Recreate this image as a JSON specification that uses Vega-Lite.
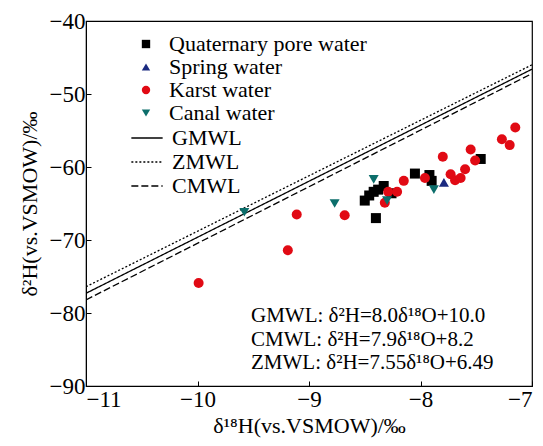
{
  "$schema": "https://vega.github.io/schema/vega-lite/v6.json",
  "width": 446,
  "height": 365,
  "autosize": {"type": "none"},
  "padding": {"left": 86, "top": 21, "right": 11, "bottom": 60},
  "background": "white",
  "config": {
    "font": "Liberation Serif",
    "view": {"stroke": "black", "strokeWidth": 1.2},
    "axis": {
      "grid": false,
      "domainColor": "black",
      "tickColor": "black",
      "tickSize": -5,
      "labelColor": "black",
      "labelFont": "Liberation Serif",
      "labelFontSize": 23,
      "titleFont": "Liberation Serif",
      "titleFontSize": 22,
      "titleFontWeight": "normal",
      "titleColor": "black",
      "format": "d"
    },
    "legend": {
      "labelFont": "Liberation Serif",
      "labelFontSize": 22,
      "labelColor": "black",
      "labelLimit": 400,
      "padding": 0,
      "rowPadding": 1,
      "title": null
    }
  },
  "datasets": {
    "samples": [
      {"type": "Quaternary pore water", "o18": -8.50, "h2": -64.6},
      {"type": "Quaternary pore water", "o18": -8.46, "h2": -63.9},
      {"type": "Quaternary pore water", "o18": -8.42, "h2": -63.4},
      {"type": "Quaternary pore water", "o18": -8.38, "h2": -63.1},
      {"type": "Quaternary pore water", "o18": -8.33, "h2": -62.6},
      {"type": "Quaternary pore water", "o18": -8.26, "h2": -63.6},
      {"type": "Quaternary pore water", "o18": -8.40, "h2": -67.0},
      {"type": "Quaternary pore water", "o18": -8.05, "h2": -60.9},
      {"type": "Quaternary pore water", "o18": -7.92, "h2": -61.1},
      {"type": "Quaternary pore water", "o18": -7.90, "h2": -61.9},
      {"type": "Quaternary pore water", "o18": -7.46, "h2": -58.9},
      {"type": "Spring water", "o18": -7.79, "h2": -62.1},
      {"type": "Karst water", "o18": -9.99, "h2": -75.9},
      {"type": "Karst water", "o18": -9.19, "h2": -71.4},
      {"type": "Karst water", "o18": -9.11, "h2": -66.5},
      {"type": "Karst water", "o18": -8.68, "h2": -66.6},
      {"type": "Karst water", "o18": -8.32, "h2": -64.9},
      {"type": "Karst water", "o18": -8.29, "h2": -63.4},
      {"type": "Karst water", "o18": -8.21, "h2": -63.4},
      {"type": "Karst water", "o18": -8.15, "h2": -61.9},
      {"type": "Karst water", "o18": -7.96, "h2": -61.5},
      {"type": "Karst water", "o18": -7.80, "h2": -58.6},
      {"type": "Karst water", "o18": -7.73, "h2": -61.0},
      {"type": "Karst water", "o18": -7.69, "h2": -61.8},
      {"type": "Karst water", "o18": -7.64, "h2": -61.5},
      {"type": "Karst water", "o18": -7.60, "h2": -60.3},
      {"type": "Karst water", "o18": -7.55, "h2": -57.6},
      {"type": "Karst water", "o18": -7.51, "h2": -59.1},
      {"type": "Karst water", "o18": -7.27, "h2": -56.2},
      {"type": "Karst water", "o18": -7.20, "h2": -57.0},
      {"type": "Karst water", "o18": -7.15, "h2": -54.6},
      {"type": "Canal water", "o18": -9.58, "h2": -66.2},
      {"type": "Canal water", "o18": -8.77, "h2": -65.0},
      {"type": "Canal water", "o18": -8.42, "h2": -61.7},
      {"type": "Canal water", "o18": -8.30, "h2": -64.6},
      {"type": "Canal water", "o18": -7.88, "h2": -63.1}
    ],
    "lines": [
      {"line": "GMWL", "o18": -11, "h2": -77.3},
      {"line": "GMWL", "o18": -7, "h2": -46.6},
      {"line": "ZMWL", "o18": -11, "h2": -76.4},
      {"line": "ZMWL", "o18": -7, "h2": -46.0},
      {"line": "CMWL", "o18": -11, "h2": -78.2},
      {"line": "CMWL", "o18": -7, "h2": -47.2}
    ],
    "notes": [
      {"o18": -9.52, "h2": -80.4, "label": "GMWL: δ²H=8.0δ¹⁸O+10.0"},
      {"o18": -9.52, "h2": -83.65, "label": "CMWL: δ²H=7.9δ¹⁸O+8.2"},
      {"o18": -9.52, "h2": -86.9, "label": "ZMWL: δ²H=7.55δ¹⁸O+6.49"}
    ]
  },
  "layer": [
    {
      "data": {"name": "lines"},
      "mark": {"type": "line", "color": "black", "strokeWidth": 1.3, "clip": true},
      "encoding": {
        "x": {"field": "o18", "type": "quantitative", "scale": {"domain": [-11, -7], "nice": false, "zero": false},
              "axis": {"title": "δ¹⁸H(vs.VSMOW)/‰", "values": [-11, -10, -9, -8, -7], "titlePadding": 4, "labelPadding": 7}},
        "y": {"field": "h2", "type": "quantitative", "scale": {"domain": [-90, -40], "nice": false, "zero": false},
              "axis": {"title": "δ²H(vs.VSMOW)/‰", "values": [-90, -80, -70, -60, -50, -40], "titlePadding": 8, "labelPadding": 6}},
        "detail": {"field": "line"},
        "strokeDash": {
          "field": "line", "type": "nominal",
          "scale": {"domain": ["GMWL", "ZMWL", "CMWL"], "range": [[1, 0], [2, 2], [7, 3]]},
          "legend": {"orient": "none", "legendX": 49, "legendY": 105, "symbolType": "M-1.4,0H1.4", "symbolSize": 500, "symbolStrokeWidth": 1.5, "labelOffset": 13}
        }
      }
    },
    {
      "data": {"name": "samples"},
      "mark": {"type": "point", "filled": true, "opacity": 1, "size": 100},
      "encoding": {
        "x": {"field": "o18", "type": "quantitative"},
        "y": {"field": "h2", "type": "quantitative"},
        "color": {
          "field": "type", "type": "nominal",
          "scale": {"domain": ["Quaternary pore water", "Spring water", "Karst water", "Canal water"], "range": ["#000000", "#1A2A80", "#E10A14", "#0C6E6B"]},
          "legend": {"orient": "none", "legendX": 49, "legendY": 12, "symbolSize": 70, "labelOffset": 12, "symbolOpacity": 1}
        },
        "shape": {
          "field": "type", "type": "nominal",
          "scale": {"domain": ["Quaternary pore water", "Spring water", "Karst water", "Canal water"], "range": ["square", "triangle-up", "circle", "triangle-down"]}
        }
      }
    },
    {
      "data": {"name": "notes"},
      "mark": {"type": "text", "align": "left", "baseline": "middle", "fontSize": 21, "font": "Liberation Serif", "color": "black"},
      "encoding": {
        "x": {"field": "o18", "type": "quantitative"},
        "y": {"field": "h2", "type": "quantitative"},
        "text": {"field": "label"}
      }
    }
  ]
}
